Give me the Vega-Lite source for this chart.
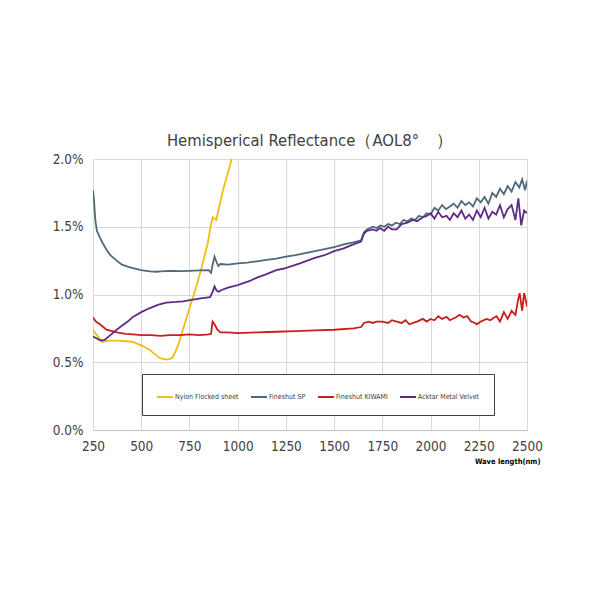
{
  "$schema": "https://vega.github.io/schema/vega-lite/v6.json",
  "width": 434,
  "height": 271,
  "autosize": "none",
  "padding": {"left": 93, "top": 159, "right": 73, "bottom": 170},
  "background": "white",
  "title": {
    "text": "Hemisperical Reflectance（AOL8°　）",
    "font": "DejaVu Sans Condensed",
    "fontSize": 16.5,
    "fontWeight": "normal",
    "color": "#404040",
    "offset": 3
  },
  "config": {
    "view": {"stroke": null},
    "axis": {"labelFont": "DejaVu Sans Condensed", "labelColor": "#404040", "labelFontSize": 13.5}
  },
  "data": {
    "values": [
      {"s": "Nylon Flocked sheet", "wl": 250, "r": 0.74},
      {"s": "Nylon Flocked sheet", "wl": 270, "r": 0.70},
      {"s": "Nylon Flocked sheet", "wl": 298, "r": 0.65},
      {"s": "Nylon Flocked sheet", "wl": 330, "r": 0.66},
      {"s": "Nylon Flocked sheet", "wl": 373, "r": 0.66},
      {"s": "Nylon Flocked sheet", "wl": 420, "r": 0.655},
      {"s": "Nylon Flocked sheet", "wl": 457, "r": 0.65},
      {"s": "Nylon Flocked sheet", "wl": 500, "r": 0.625},
      {"s": "Nylon Flocked sheet", "wl": 545, "r": 0.59},
      {"s": "Nylon Flocked sheet", "wl": 570, "r": 0.56},
      {"s": "Nylon Flocked sheet", "wl": 597, "r": 0.53},
      {"s": "Nylon Flocked sheet", "wl": 630, "r": 0.52},
      {"s": "Nylon Flocked sheet", "wl": 650, "r": 0.525},
      {"s": "Nylon Flocked sheet", "wl": 665, "r": 0.54},
      {"s": "Nylon Flocked sheet", "wl": 690, "r": 0.62},
      {"s": "Nylon Flocked sheet", "wl": 716, "r": 0.74},
      {"s": "Nylon Flocked sheet", "wl": 740, "r": 0.85},
      {"s": "Nylon Flocked sheet", "wl": 768, "r": 0.98},
      {"s": "Nylon Flocked sheet", "wl": 790, "r": 1.08},
      {"s": "Nylon Flocked sheet", "wl": 819, "r": 1.23},
      {"s": "Nylon Flocked sheet", "wl": 845, "r": 1.38},
      {"s": "Nylon Flocked sheet", "wl": 862, "r": 1.52},
      {"s": "Nylon Flocked sheet", "wl": 871, "r": 1.57},
      {"s": "Nylon Flocked sheet", "wl": 880, "r": 1.56},
      {"s": "Nylon Flocked sheet", "wl": 889, "r": 1.55},
      {"s": "Nylon Flocked sheet", "wl": 900, "r": 1.62},
      {"s": "Nylon Flocked sheet", "wl": 924, "r": 1.77},
      {"s": "Nylon Flocked sheet", "wl": 950, "r": 1.90},
      {"s": "Nylon Flocked sheet", "wl": 975, "r": 2.03},
      {"s": "Nylon Flocked sheet", "wl": 1000, "r": 2.15},

      {"s": "Fineshut SP", "wl": 250, "r": 1.77},
      {"s": "Fineshut SP", "wl": 255, "r": 1.70},
      {"s": "Fineshut SP", "wl": 262, "r": 1.55},
      {"s": "Fineshut SP", "wl": 270, "r": 1.47},
      {"s": "Fineshut SP", "wl": 286, "r": 1.42},
      {"s": "Fineshut SP", "wl": 300, "r": 1.38},
      {"s": "Fineshut SP", "wl": 320, "r": 1.33},
      {"s": "Fineshut SP", "wl": 340, "r": 1.29},
      {"s": "Fineshut SP", "wl": 373, "r": 1.25},
      {"s": "Fineshut SP", "wl": 400, "r": 1.22},
      {"s": "Fineshut SP", "wl": 430, "r": 1.205},
      {"s": "Fineshut SP", "wl": 457, "r": 1.195},
      {"s": "Fineshut SP", "wl": 500, "r": 1.18},
      {"s": "Fineshut SP", "wl": 545, "r": 1.17},
      {"s": "Fineshut SP", "wl": 580, "r": 1.168},
      {"s": "Fineshut SP", "wl": 600, "r": 1.17},
      {"s": "Fineshut SP", "wl": 650, "r": 1.175},
      {"s": "Fineshut SP", "wl": 700, "r": 1.172},
      {"s": "Fineshut SP", "wl": 750, "r": 1.175},
      {"s": "Fineshut SP", "wl": 800, "r": 1.178},
      {"s": "Fineshut SP", "wl": 850, "r": 1.18},
      {"s": "Fineshut SP", "wl": 862, "r": 1.16},
      {"s": "Fineshut SP", "wl": 870, "r": 1.22},
      {"s": "Fineshut SP", "wl": 880, "r": 1.28},
      {"s": "Fineshut SP", "wl": 890, "r": 1.24},
      {"s": "Fineshut SP", "wl": 900, "r": 1.21},
      {"s": "Fineshut SP", "wl": 910, "r": 1.225},
      {"s": "Fineshut SP", "wl": 950, "r": 1.22},
      {"s": "Fineshut SP", "wl": 1000, "r": 1.23},
      {"s": "Fineshut SP", "wl": 1050, "r": 1.235},
      {"s": "Fineshut SP", "wl": 1100, "r": 1.245},
      {"s": "Fineshut SP", "wl": 1150, "r": 1.255},
      {"s": "Fineshut SP", "wl": 1200, "r": 1.265},
      {"s": "Fineshut SP", "wl": 1250, "r": 1.28},
      {"s": "Fineshut SP", "wl": 1300, "r": 1.29},
      {"s": "Fineshut SP", "wl": 1350, "r": 1.305},
      {"s": "Fineshut SP", "wl": 1400, "r": 1.32},
      {"s": "Fineshut SP", "wl": 1450, "r": 1.335},
      {"s": "Fineshut SP", "wl": 1500, "r": 1.35},
      {"s": "Fineshut SP", "wl": 1550, "r": 1.37},
      {"s": "Fineshut SP", "wl": 1600, "r": 1.385},
      {"s": "Fineshut SP", "wl": 1640, "r": 1.40},
      {"s": "Fineshut SP", "wl": 1655, "r": 1.46},
      {"s": "Fineshut SP", "wl": 1670, "r": 1.48},
      {"s": "Fineshut SP", "wl": 1700, "r": 1.50},
      {"s": "Fineshut SP", "wl": 1720, "r": 1.49},
      {"s": "Fineshut SP", "wl": 1740, "r": 1.51},
      {"s": "Fineshut SP", "wl": 1760, "r": 1.50},
      {"s": "Fineshut SP", "wl": 1780, "r": 1.52},
      {"s": "Fineshut SP", "wl": 1800, "r": 1.51},
      {"s": "Fineshut SP", "wl": 1820, "r": 1.53},
      {"s": "Fineshut SP", "wl": 1840, "r": 1.52},
      {"s": "Fineshut SP", "wl": 1860, "r": 1.55},
      {"s": "Fineshut SP", "wl": 1880, "r": 1.54},
      {"s": "Fineshut SP", "wl": 1900, "r": 1.56},
      {"s": "Fineshut SP", "wl": 1920, "r": 1.55},
      {"s": "Fineshut SP", "wl": 1940, "r": 1.58},
      {"s": "Fineshut SP", "wl": 1960, "r": 1.57},
      {"s": "Fineshut SP", "wl": 1980, "r": 1.60},
      {"s": "Fineshut SP", "wl": 2000, "r": 1.59},
      {"s": "Fineshut SP", "wl": 2020, "r": 1.64},
      {"s": "Fineshut SP", "wl": 2040, "r": 1.62},
      {"s": "Fineshut SP", "wl": 2060, "r": 1.66},
      {"s": "Fineshut SP", "wl": 2080, "r": 1.63},
      {"s": "Fineshut SP", "wl": 2100, "r": 1.65},
      {"s": "Fineshut SP", "wl": 2120, "r": 1.67},
      {"s": "Fineshut SP", "wl": 2140, "r": 1.64},
      {"s": "Fineshut SP", "wl": 2160, "r": 1.69},
      {"s": "Fineshut SP", "wl": 2180, "r": 1.66},
      {"s": "Fineshut SP", "wl": 2200, "r": 1.68},
      {"s": "Fineshut SP", "wl": 2220, "r": 1.65},
      {"s": "Fineshut SP", "wl": 2240, "r": 1.71},
      {"s": "Fineshut SP", "wl": 2260, "r": 1.68},
      {"s": "Fineshut SP", "wl": 2280, "r": 1.72},
      {"s": "Fineshut SP", "wl": 2300, "r": 1.67},
      {"s": "Fineshut SP", "wl": 2320, "r": 1.75},
      {"s": "Fineshut SP", "wl": 2340, "r": 1.72},
      {"s": "Fineshut SP", "wl": 2360, "r": 1.78},
      {"s": "Fineshut SP", "wl": 2380, "r": 1.74},
      {"s": "Fineshut SP", "wl": 2400, "r": 1.80},
      {"s": "Fineshut SP", "wl": 2420, "r": 1.76},
      {"s": "Fineshut SP", "wl": 2440, "r": 1.83},
      {"s": "Fineshut SP", "wl": 2460, "r": 1.79},
      {"s": "Fineshut SP", "wl": 2475, "r": 1.85},
      {"s": "Fineshut SP", "wl": 2490, "r": 1.77},
      {"s": "Fineshut SP", "wl": 2500, "r": 1.84},

      {"s": "Fineshut KIWAMI", "wl": 250, "r": 0.83},
      {"s": "Fineshut KIWAMI", "wl": 265, "r": 0.80},
      {"s": "Fineshut KIWAMI", "wl": 286, "r": 0.78},
      {"s": "Fineshut KIWAMI", "wl": 320, "r": 0.74},
      {"s": "Fineshut KIWAMI", "wl": 373, "r": 0.72},
      {"s": "Fineshut KIWAMI", "wl": 420, "r": 0.71},
      {"s": "Fineshut KIWAMI", "wl": 457, "r": 0.705},
      {"s": "Fineshut KIWAMI", "wl": 500, "r": 0.70},
      {"s": "Fineshut KIWAMI", "wl": 550, "r": 0.70},
      {"s": "Fineshut KIWAMI", "wl": 600, "r": 0.695},
      {"s": "Fineshut KIWAMI", "wl": 650, "r": 0.70},
      {"s": "Fineshut KIWAMI", "wl": 700, "r": 0.70},
      {"s": "Fineshut KIWAMI", "wl": 750, "r": 0.705},
      {"s": "Fineshut KIWAMI", "wl": 800, "r": 0.70},
      {"s": "Fineshut KIWAMI", "wl": 850, "r": 0.705},
      {"s": "Fineshut KIWAMI", "wl": 862, "r": 0.71},
      {"s": "Fineshut KIWAMI", "wl": 870, "r": 0.80},
      {"s": "Fineshut KIWAMI", "wl": 880, "r": 0.78},
      {"s": "Fineshut KIWAMI", "wl": 895, "r": 0.74},
      {"s": "Fineshut KIWAMI", "wl": 910, "r": 0.72},
      {"s": "Fineshut KIWAMI", "wl": 950, "r": 0.72},
      {"s": "Fineshut KIWAMI", "wl": 1000, "r": 0.715},
      {"s": "Fineshut KIWAMI", "wl": 1100, "r": 0.72},
      {"s": "Fineshut KIWAMI", "wl": 1200, "r": 0.725},
      {"s": "Fineshut KIWAMI", "wl": 1300, "r": 0.73},
      {"s": "Fineshut KIWAMI", "wl": 1400, "r": 0.735},
      {"s": "Fineshut KIWAMI", "wl": 1500, "r": 0.74},
      {"s": "Fineshut KIWAMI", "wl": 1600, "r": 0.75},
      {"s": "Fineshut KIWAMI", "wl": 1640, "r": 0.76},
      {"s": "Fineshut KIWAMI", "wl": 1655, "r": 0.79},
      {"s": "Fineshut KIWAMI", "wl": 1680, "r": 0.80},
      {"s": "Fineshut KIWAMI", "wl": 1700, "r": 0.79},
      {"s": "Fineshut KIWAMI", "wl": 1720, "r": 0.80},
      {"s": "Fineshut KIWAMI", "wl": 1750, "r": 0.80},
      {"s": "Fineshut KIWAMI", "wl": 1780, "r": 0.79},
      {"s": "Fineshut KIWAMI", "wl": 1800, "r": 0.81},
      {"s": "Fineshut KIWAMI", "wl": 1824, "r": 0.80},
      {"s": "Fineshut KIWAMI", "wl": 1850, "r": 0.79},
      {"s": "Fineshut KIWAMI", "wl": 1870, "r": 0.81},
      {"s": "Fineshut KIWAMI", "wl": 1890, "r": 0.78},
      {"s": "Fineshut KIWAMI", "wl": 1909, "r": 0.79},
      {"s": "Fineshut KIWAMI", "wl": 1930, "r": 0.80},
      {"s": "Fineshut KIWAMI", "wl": 1960, "r": 0.82},
      {"s": "Fineshut KIWAMI", "wl": 1980, "r": 0.80},
      {"s": "Fineshut KIWAMI", "wl": 2000, "r": 0.82},
      {"s": "Fineshut KIWAMI", "wl": 2020, "r": 0.81},
      {"s": "Fineshut KIWAMI", "wl": 2040, "r": 0.84},
      {"s": "Fineshut KIWAMI", "wl": 2060, "r": 0.82},
      {"s": "Fineshut KIWAMI", "wl": 2083, "r": 0.835},
      {"s": "Fineshut KIWAMI", "wl": 2100, "r": 0.81},
      {"s": "Fineshut KIWAMI", "wl": 2130, "r": 0.83},
      {"s": "Fineshut KIWAMI", "wl": 2150, "r": 0.85},
      {"s": "Fineshut KIWAMI", "wl": 2170, "r": 0.83},
      {"s": "Fineshut KIWAMI", "wl": 2190, "r": 0.84},
      {"s": "Fineshut KIWAMI", "wl": 2210, "r": 0.80},
      {"s": "Fineshut KIWAMI", "wl": 2230, "r": 0.79},
      {"s": "Fineshut KIWAMI", "wl": 2240, "r": 0.78},
      {"s": "Fineshut KIWAMI", "wl": 2260, "r": 0.80},
      {"s": "Fineshut KIWAMI", "wl": 2290, "r": 0.82},
      {"s": "Fineshut KIWAMI", "wl": 2310, "r": 0.81},
      {"s": "Fineshut KIWAMI", "wl": 2330, "r": 0.83},
      {"s": "Fineshut KIWAMI", "wl": 2342, "r": 0.84},
      {"s": "Fineshut KIWAMI", "wl": 2360, "r": 0.80},
      {"s": "Fineshut KIWAMI", "wl": 2380, "r": 0.87},
      {"s": "Fineshut KIWAMI", "wl": 2400, "r": 0.82},
      {"s": "Fineshut KIWAMI", "wl": 2420, "r": 0.88},
      {"s": "Fineshut KIWAMI", "wl": 2440, "r": 0.85},
      {"s": "Fineshut KIWAMI", "wl": 2455, "r": 0.97},
      {"s": "Fineshut KIWAMI", "wl": 2462, "r": 1.01},
      {"s": "Fineshut KIWAMI", "wl": 2475, "r": 0.88},
      {"s": "Fineshut KIWAMI", "wl": 2485, "r": 1.01},
      {"s": "Fineshut KIWAMI", "wl": 2495, "r": 0.95},
      {"s": "Fineshut KIWAMI", "wl": 2500, "r": 0.91},

      {"s": "Acktar Metal Velvet", "wl": 250, "r": 0.69},
      {"s": "Acktar Metal Velvet", "wl": 270, "r": 0.675},
      {"s": "Acktar Metal Velvet", "wl": 290, "r": 0.66},
      {"s": "Acktar Metal Velvet", "wl": 310, "r": 0.665},
      {"s": "Acktar Metal Velvet", "wl": 340, "r": 0.70},
      {"s": "Acktar Metal Velvet", "wl": 373, "r": 0.74},
      {"s": "Acktar Metal Velvet", "wl": 400, "r": 0.77},
      {"s": "Acktar Metal Velvet", "wl": 430, "r": 0.80},
      {"s": "Acktar Metal Velvet", "wl": 457, "r": 0.835},
      {"s": "Acktar Metal Velvet", "wl": 500, "r": 0.87},
      {"s": "Acktar Metal Velvet", "wl": 545, "r": 0.90},
      {"s": "Acktar Metal Velvet", "wl": 590, "r": 0.925},
      {"s": "Acktar Metal Velvet", "wl": 630, "r": 0.94},
      {"s": "Acktar Metal Velvet", "wl": 680, "r": 0.945},
      {"s": "Acktar Metal Velvet", "wl": 716, "r": 0.95},
      {"s": "Acktar Metal Velvet", "wl": 760, "r": 0.96},
      {"s": "Acktar Metal Velvet", "wl": 800, "r": 0.97},
      {"s": "Acktar Metal Velvet", "wl": 857, "r": 0.98},
      {"s": "Acktar Metal Velvet", "wl": 870, "r": 1.02},
      {"s": "Acktar Metal Velvet", "wl": 880, "r": 1.06},
      {"s": "Acktar Metal Velvet", "wl": 890, "r": 1.03},
      {"s": "Acktar Metal Velvet", "wl": 900, "r": 1.02},
      {"s": "Acktar Metal Velvet", "wl": 920, "r": 1.035},
      {"s": "Acktar Metal Velvet", "wl": 950, "r": 1.05},
      {"s": "Acktar Metal Velvet", "wl": 1000, "r": 1.07},
      {"s": "Acktar Metal Velvet", "wl": 1063, "r": 1.10},
      {"s": "Acktar Metal Velvet", "wl": 1100, "r": 1.125},
      {"s": "Acktar Metal Velvet", "wl": 1150, "r": 1.15},
      {"s": "Acktar Metal Velvet", "wl": 1200, "r": 1.18},
      {"s": "Acktar Metal Velvet", "wl": 1235, "r": 1.19},
      {"s": "Acktar Metal Velvet", "wl": 1280, "r": 1.21},
      {"s": "Acktar Metal Velvet", "wl": 1323, "r": 1.23},
      {"s": "Acktar Metal Velvet", "wl": 1400, "r": 1.27},
      {"s": "Acktar Metal Velvet", "wl": 1450, "r": 1.29},
      {"s": "Acktar Metal Velvet", "wl": 1500, "r": 1.32},
      {"s": "Acktar Metal Velvet", "wl": 1550, "r": 1.34},
      {"s": "Acktar Metal Velvet", "wl": 1600, "r": 1.37},
      {"s": "Acktar Metal Velvet", "wl": 1640, "r": 1.39},
      {"s": "Acktar Metal Velvet", "wl": 1655, "r": 1.45},
      {"s": "Acktar Metal Velvet", "wl": 1670, "r": 1.47},
      {"s": "Acktar Metal Velvet", "wl": 1700, "r": 1.48},
      {"s": "Acktar Metal Velvet", "wl": 1720, "r": 1.47},
      {"s": "Acktar Metal Velvet", "wl": 1738, "r": 1.49},
      {"s": "Acktar Metal Velvet", "wl": 1760, "r": 1.47},
      {"s": "Acktar Metal Velvet", "wl": 1780, "r": 1.50},
      {"s": "Acktar Metal Velvet", "wl": 1800, "r": 1.48},
      {"s": "Acktar Metal Velvet", "wl": 1824, "r": 1.48},
      {"s": "Acktar Metal Velvet", "wl": 1850, "r": 1.52},
      {"s": "Acktar Metal Velvet", "wl": 1880, "r": 1.53},
      {"s": "Acktar Metal Velvet", "wl": 1909, "r": 1.55},
      {"s": "Acktar Metal Velvet", "wl": 1930, "r": 1.54},
      {"s": "Acktar Metal Velvet", "wl": 1960, "r": 1.57},
      {"s": "Acktar Metal Velvet", "wl": 1980, "r": 1.58},
      {"s": "Acktar Metal Velvet", "wl": 2000, "r": 1.60},
      {"s": "Acktar Metal Velvet", "wl": 2020, "r": 1.56},
      {"s": "Acktar Metal Velvet", "wl": 2040, "r": 1.61},
      {"s": "Acktar Metal Velvet", "wl": 2060, "r": 1.57},
      {"s": "Acktar Metal Velvet", "wl": 2083, "r": 1.58},
      {"s": "Acktar Metal Velvet", "wl": 2100, "r": 1.55},
      {"s": "Acktar Metal Velvet", "wl": 2120, "r": 1.60},
      {"s": "Acktar Metal Velvet", "wl": 2140, "r": 1.57},
      {"s": "Acktar Metal Velvet", "wl": 2160, "r": 1.62},
      {"s": "Acktar Metal Velvet", "wl": 2180, "r": 1.56},
      {"s": "Acktar Metal Velvet", "wl": 2200, "r": 1.59},
      {"s": "Acktar Metal Velvet", "wl": 2220, "r": 1.55},
      {"s": "Acktar Metal Velvet", "wl": 2240, "r": 1.62},
      {"s": "Acktar Metal Velvet", "wl": 2260, "r": 1.57},
      {"s": "Acktar Metal Velvet", "wl": 2280, "r": 1.64},
      {"s": "Acktar Metal Velvet", "wl": 2300, "r": 1.56},
      {"s": "Acktar Metal Velvet", "wl": 2320, "r": 1.61},
      {"s": "Acktar Metal Velvet", "wl": 2340, "r": 1.59},
      {"s": "Acktar Metal Velvet", "wl": 2360, "r": 1.66},
      {"s": "Acktar Metal Velvet", "wl": 2380, "r": 1.57},
      {"s": "Acktar Metal Velvet", "wl": 2400, "r": 1.63},
      {"s": "Acktar Metal Velvet", "wl": 2420, "r": 1.66},
      {"s": "Acktar Metal Velvet", "wl": 2440, "r": 1.55},
      {"s": "Acktar Metal Velvet", "wl": 2455, "r": 1.71},
      {"s": "Acktar Metal Velvet", "wl": 2470, "r": 1.51},
      {"s": "Acktar Metal Velvet", "wl": 2485, "r": 1.62},
      {"s": "Acktar Metal Velvet", "wl": 2500, "r": 1.60}
    ]
  },
  "mark": {"type": "line", "strokeWidth": 1.8, "clip": true},
  "encoding": {
    "x": {
      "field": "wl", "type": "quantitative",
      "scale": {"domain": [250, 2500], "nice": false, "zero": false},
      "axis": {
        "values": [250, 500, 750, 1000, 1250, 1500, 1750, 2000, 2250, 2500],
        "format": "d",
        "ticks": false, "tickSize": 0, "labelPadding": 9,
        "domainColor": "#bfbfbf", "gridColor": "#d9d9d9",
        "labelOverlap": false, "labelBound": false, "labelFlush": false,
        "title": "Wave length(nm)", "titleFont": "DejaVu Sans Condensed",
        "titleFontSize": 7.5, "titleFontWeight": "bold", "titleColor": "#000000",
        "titleAnchor": "end", "titleAlign": "right", "titleX": 447, "titleY": 33, "titleBaseline": "alphabetic"
      }
    },
    "y": {
      "field": "r", "type": "quantitative",
      "scale": {"domain": [0, 2], "nice": false},
      "axis": {
        "values": [0, 0.5, 1, 1.5, 2],
        "labelExpr": "format(datum.value, '.1f') + '%'",
        "ticks": false, "tickSize": 0, "labelPadding": 10, "domain": false,
        "gridColor": "#d9d9d9", "title": null, "labelFlush": false, "labelBound": false
      }
    },
    "color": {
      "field": "s", "type": "nominal", "sort": null,
      "scale": {
        "domain": ["Nylon Flocked sheet", "Fineshut SP", "Fineshut KIWAMI", "Acktar Metal Velvet"],
        "range": ["#F0BE14", "#50697A", "#C81E1E", "#5E2A86"]
      },
      "legend": {
        "orient": "none", "legendX": 49, "legendY": 215,
        "direction": "horizontal", "columns": 4, "title": null,
        "strokeColor": "#404040", "padding": 14, "fillColor": "white",
        "symbolType": "stroke", "symbolSize": 256, "symbolStrokeWidth": 2,
        "labelFont": "DejaVu Sans Condensed", "labelFontSize": 7, "labelColor": "#404040",
        "labelOffset": 1, "columnPadding": 8
      }
    }
  }
}
